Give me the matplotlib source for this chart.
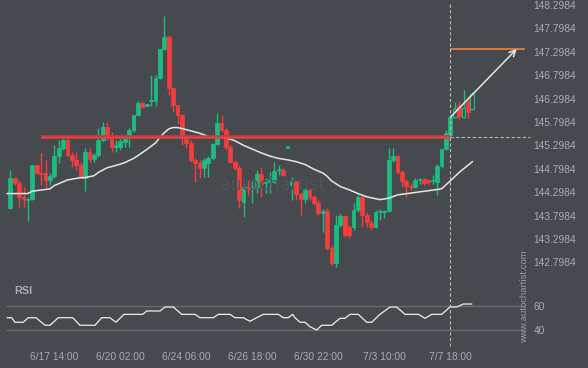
import matplotlib
matplotlib.use("Agg")
import matplotlib.pyplot as plt
import matplotlib.transforms as mtransforms
from matplotlib.lines import Line2D

plt.rcParams['font.family'] = ['Liberation Sans', 'DejaVu Sans']

# candle data (4h bars)
opens = [143.96, 144.60, 144.49, 144.20, 144.13, 144.15, 144.88, 144.71, 144.70, 144.56,
         144.64, 145.07, 145.24, 145.41, 145.09, 144.99, 144.88, 144.61, 145.16, 145.00,
         145.09, 145.41, 145.69, 145.48, 145.26, 145.26, 145.37, 145.48, 145.63, 145.95,
         146.20, 146.15, 146.25, 146.25, 146.74, 147.36, 147.61, 146.52, 146.16, 145.95,
         145.46, 145.35, 144.99, 144.92, 144.82, 144.92, 145.03, 145.33, 145.78, 145.63,
         145.26, 144.94, 144.82, 144.09, 144.41, 144.38, 144.41, 144.69, 144.49, 144.52,
         144.52, 144.77, 144.77, 145.25, 144.45, 144.54, 144.26, 144.15, 144.35, 144.20,
         144.07, 143.85, 143.90, 143.11, 142.79, 143.60, 143.79, 143.55, 143.55, 143.92,
         144.20, 143.81, 143.64, 143.55, 143.88, 143.88, 143.90, 144.99, 145.07, 144.73,
         144.54, 144.43, 144.41, 144.56, 144.58, 144.56, 144.54, 144.52, 144.86, 145.22,
         145.52, 145.90, 146.14, 145.90, 146.22, 146.08]
closes = [144.60, 144.49, 144.20, 144.15, 144.15, 144.88, 144.71, 144.69, 144.56, 144.64,
          145.07, 145.24, 145.41, 145.09, 144.99, 144.88, 144.61, 145.16, 145.00, 145.09,
          145.41, 145.69, 145.48, 145.26, 145.31, 145.39, 145.48, 145.63, 145.95, 146.20,
          146.12, 146.16, 146.27, 146.74, 147.36, 147.61, 146.52, 146.16, 145.95, 145.46,
          145.35, 144.99, 144.92, 144.82, 144.99, 145.03, 145.33, 145.78, 145.63, 145.26,
          144.94, 144.82, 144.13, 144.41, 144.37, 144.40, 144.69, 144.47, 144.52, 144.56,
          144.75, 144.79, 144.67, 145.26, 144.54, 144.26, 144.15, 144.35, 144.20, 144.07,
          143.85, 143.90, 143.11, 142.79, 143.60, 143.79, 143.38, 143.38, 143.92, 144.20,
          143.81, 143.66, 143.55, 143.88, 143.90, 143.90, 144.99, 145.07, 144.73, 144.54,
          144.43, 144.41, 144.56, 144.58, 144.49, 144.52, 144.56, 144.86, 145.22, 145.56,
          145.90, 146.08, 145.93, 146.10, 146.01, 146.40]
highs = [144.77, 144.62, 144.56, 144.41, 144.20, 144.88, 144.90, 145.14, 144.99, 144.71,
         145.31, 145.41, 145.48, 145.46, 145.16, 145.16, 144.94, 145.24, 145.24, 145.14,
         145.67, 145.80, 145.80, 145.58, 145.41, 145.46, 145.52, 145.67, 145.95, 146.25,
         146.25, 146.18, 146.80, 146.80, 147.36, 148.06, 147.66, 146.52, 146.16, 145.97,
         145.50, 145.41, 145.03, 144.99, 145.03, 145.07, 145.35, 145.99, 145.95, 145.67,
         145.31, 144.99, 144.88, 144.49, 144.56, 144.56, 144.77, 144.84, 144.60, 144.73,
         144.94, 144.88, 144.81, 145.26, 144.62, 144.56, 144.30, 144.39, 144.39, 144.24,
         144.13, 143.94, 143.96, 143.17, 143.81, 143.85, 143.81, 143.60, 144.07, 144.24,
         144.24, 143.88, 143.70, 143.92, 143.94, 143.92, 145.24, 145.24, 145.09, 144.77,
         144.58, 144.49, 144.60, 144.61, 144.60, 144.58, 144.67, 144.90, 145.24, 145.63,
         145.93, 146.23, 146.25, 146.48, 146.35, 146.44]
lows = [143.94, 144.45, 143.98, 143.98, 143.68, 144.13, 144.69, 144.45, 144.41, 144.45,
        144.60, 144.92, 145.20, 145.05, 144.84, 144.77, 144.60, 144.33, 144.94, 144.94,
        145.05, 145.37, 145.41, 145.16, 145.16, 145.20, 145.26, 145.26, 145.58, 145.93,
        146.10, 146.14, 146.14, 146.14, 146.72, 147.34, 146.37, 146.01, 145.76, 145.31,
        145.24, 144.95, 144.52, 144.60, 144.62, 144.62, 144.99, 145.31, 145.58, 145.20,
        144.92, 144.77, 143.96, 143.77, 144.24, 144.07, 144.28, 144.20, 144.28, 144.28,
        144.49, 144.67, 144.64, 145.25, 144.13, 144.13, 143.81, 144.07, 144.13, 144.02,
        143.81, 143.45, 143.06, 142.74, 142.70, 143.55, 143.34, 143.32, 143.49, 143.88,
        143.55, 143.55, 143.49, 143.53, 143.70, 143.74, 143.88, 144.94, 144.69, 144.41,
        144.20, 144.35, 144.39, 144.47, 144.45, 144.47, 144.47, 144.24, 144.82, 145.20,
        145.48, 145.88, 145.86, 145.88, 145.88, 146.05]

# moving average line (bar index, price)
ma_x = [-0.7, 4, 5, 9, 10, 13, 16, 17, 19, 20, 22, 24, 26, 28, 29, 31, 33, 34, 35, 36,
        37, 38, 39, 41, 43, 45, 47, 49, 51, 53, 55, 57, 59, 61, 63, 65, 67, 69, 71, 72,
        73, 75, 77, 79, 81, 84, 86, 88, 91, 95, 98, 100, 102, 105]
ma_y = [144.27, 144.27, 144.32, 144.37, 144.44, 144.56, 144.61, 144.61, 144.65, 144.72,
        144.82, 144.87, 144.93, 145.02, 145.08, 145.21, 145.35, 145.47, 145.57, 145.65,
        145.68, 145.68, 145.66, 145.61, 145.56, 145.49, 145.47, 145.46, 145.40, 145.30,
        145.22, 145.14, 145.07, 145.02, 144.99, 144.95, 144.89, 144.79, 144.71, 144.64,
        144.54, 144.42, 144.35, 144.27, 144.20, 144.14, 144.17, 144.24, 144.28, 144.33,
        144.37, 144.54, 144.72, 144.95]

# RSI
rsi_x = [-0.68, 0.32, 1.07, 2.95, 4.09, 5.84, 7.89, 9.02, 10.91, 14.18, 15.84, 19.25,
         20.77, 22.66, 24.02, 25.84, 30.09, 31.0, 34.02, 35.16, 37.05, 38.95, 41.98, 43.11,
         46.14, 47.27, 49.93, 51.07, 52.95, 54.48, 56.0, 57.5, 60.91, 62.05, 63.18, 64.18,
         64.7, 65.84, 66.98, 68.11, 69.64, 70.77, 73.05, 74.93, 76.07, 77.2, 79.09, 81.0,
         82.14, 84.02, 86.3, 87.82, 89.7, 92.73, 94.25, 95.77, 98.05, 99.93, 101.45,
         102.95, 104.86]
rsi_v = [50.5, 50.5, 46.7, 46.7, 50.5, 50.5, 44.2, 44.2, 50.5, 50.5, 44.2, 44.2,
         50.5, 50.5, 46.7, 53.3, 53.3, 56.1, 56.1, 59.4, 59.4, 53.3, 53.3, 50.5,
         50.5, 53.3, 53.3, 50.5, 50.5, 47.5, 50.5, 53.3, 53.3, 50.5, 50.5, 53.3,
         50.5, 46.7, 46.7, 43.0, 40.25, 44.2, 44.2, 50.0, 50.0, 53.3, 53.3, 46.7,
         46.7, 53.3, 59.4, 59.4, 53.3, 53.3, 50.0, 53.3, 53.3, 59.4, 59.4,
         61.9, 61.9]

price_ticks = [142.7984, 143.2984, 143.7984, 144.2984, 144.7984, 145.2984,
               145.7984, 146.2984, 146.7984, 147.2984, 147.7984, 148.2984]
time_ticks = [10, 25, 40, 55, 70, 85, 100]
time_labels = ['6/17 14:00', '6/20 02:00', '6/24 06:00', '6/26 18:00',
               '6/30 22:00', '7/3 10:00', '7/7 18:00']

level = 145.478      # broken resistance
target = 147.365     # forecast target
signal_bar = 100

BG = '#464a4f'
GREEN = '#1dbd82'
RED = '#f53d3d'
TXT = '#a9acb1'

W, H = 588, 368
fig = plt.figure(figsize=(W / 100, H / 100), dpi=100, facecolor=BG)

# main price panel
ax = fig.add_axes([0, (H - 285) / H, 528 / W, 285 / H], facecolor=BG)
ax.set_xlim(-10.3 / 4.4, (528 - 10.3) / 4.4)
ax.set_ylim(148.2984 - 280 / 46.8, 148.2984 + 5 / 46.8)

fig.text(220 / W, 1 - 185 / H, 'autochartist', fontsize=12.5, color='#505459',
         va='center', family='DejaVu Sans', zorder=0)

for i in range(len(opens)):
    o, c, h, l = opens[i], closes[i], highs[i], lows[i]
    col = GREEN if c >= o else RED
    ax.vlines(i, l, h, color=col, lw=1, zorder=2)
    hollow = i > signal_bar and c >= o
    ax.bar(i, max(abs(c - o), 0.025), bottom=min(o, c), width=0.88,
           color=BG if hollow else col, edgecolor=col, lw=0.8 if hollow else 0.5,
           zorder=2)

ax.plot(ma_x, ma_y, color='#e6e6e6', lw=1.1, zorder=3)

ax.hlines(level, 7, signal_bar, color='#c93a3c', lw=2.6, zorder=4)
ax.hlines(level, 7, signal_bar, color='#e24848', lw=1.0, zorder=4)
ax.hlines(level, signal_bar, 118, color='#b8b8b8', lw=0.8, ls=(0, (3, 2)),
          zorder=4, clip_on=False)
ax.hlines(target, signal_bar, 117, color='#f0823c', lw=1.2, zorder=4)
ax.annotate('', xy=(115.1, 147.36), xytext=(signal_bar, 145.90),
            arrowprops=dict(arrowstyle='->', color='#e6e6e6', lw=1.1,
                            shrinkA=0, shrinkB=0, mutation_scale=11), zorder=5)

ax.yaxis.tick_right()
ax.set_yticks(price_ticks)
ax.set_yticklabels(['%.4f' % p for p in price_ticks])
ax.tick_params(axis='y', length=0, pad=4, labelsize=7.4, labelcolor=TXT)
ax.set_xticks([])
for s in ax.spines.values():
    s.set_visible(False)

# RSI panel
rax = fig.add_axes([0, (H - 346) / H, 528 / W, 56 / H], facecolor=BG)
rax.set_xlim(ax.get_xlim())
rax.set_ylim(60 - (346 - 306.3) / 1.2, 60 + (306.3 - 290) / 1.2)
rax.hlines([60, 40], -1, 117.3, color='#686b70', lw=1)
rax.plot(rsi_x, rsi_v, color='#eeeeee', lw=0.9)
rax.yaxis.tick_right()
rax.set_yticks([60, 40])
rax.set_yticklabels(['60', '40'])
rax.tick_params(axis='y', length=0, pad=4, labelsize=7.4, labelcolor=TXT)
rax.set_xticks(time_ticks)
rax.set_xticklabels(time_labels)
rax.tick_params(axis='x', length=0, pad=4, labelsize=7.4, labelcolor=TXT)
for s in rax.spines.values():
    s.set_visible(False)
fig.text(14 / W, 1 - 291 / H, 'RSI', fontsize=7.8, fontweight='bold', color=TXT,
         va='center')

# signal time marker across both panels
tr = mtransforms.blended_transform_factory(ax.transData, fig.transFigure)
fig.add_artist(Line2D([signal_bar, signal_bar], [1 - 4 / H, 1 - 347 / H], transform=tr,
                      color='#b8b8b8', lw=0.8, ls=(0, (3, 2))))

fig.text(525 / W, 1 - 297 / H, 'www.autochartist.com', rotation=90, fontsize=6.8,
         color='#9a9da2', ha='center', va='center')

fig.savefig('out.png', dpi=100, facecolor=BG)
